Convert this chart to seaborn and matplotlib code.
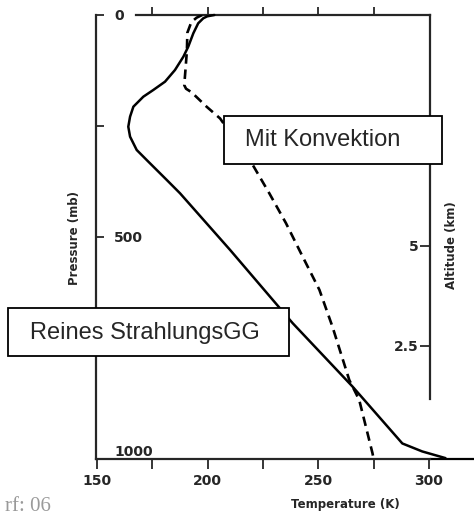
import matplotlib
matplotlib.use('Agg')
import matplotlib.pyplot as plt
import seaborn as sns
import pandas as pd
from matplotlib.patches import Rectangle

# pure radiative equilibrium profile (solid)
rad_temp = [203, 199.8, 198.0, 195.7, 193.5, 191.2, 189.0, 185.2, 180.7, 175.4, 170.9,
            166.4, 164.9, 164.1, 164.9, 167.9, 173.1, 181.5, 187.5, 210.1, 238.4,
            265.5, 288.0, 297.0, 307.5]
rad_pres = [0, 3, 7.4, 18.7, 41.2, 71.4, 93.9, 123.9, 150.2, 168.9, 184,
            206.5, 229, 251.6, 274, 304, 330, 371.6, 401.6, 529, 694,
            837, 965, 983, 998]

# radiative-convective profile (dashed)
conv_temp = [197.5, 195.0, 192.6, 190.8, 190.6, 190.0, 189.4, 190.2, 192.7, 199.5, 205.6,
             220.4, 227.9, 235.4, 242.9, 250.5, 256.4, 264.0, 268.5, 274.5, 275.0]
conv_pres = [0, 6, 16, 40, 80, 120, 158, 166, 174, 206.5, 233,
             338, 402, 469, 544, 619, 702, 822, 867, 987, 1000]

temp_ticks = [150, 175, 200, 225, 250, 275, 300]
temp_labels = ['150', '', '200', '', '250', '', '300']
top_ticks = [175, 200, 225, 250, 275]
pres_ticks = [0, 250, 500, 750, 1000]
pres_labels = ['0', '', '500', '750', '1000']
alt_ticks = [2.5, 5]
alt_labels = ['2.5', '5']

W, H = 474, 515

sns.set_style('ticks')
plt.rcParams['font.family'] = ['DejaVu Sans']

fig = plt.figure(figsize=(W / 100, H / 100), dpi=100)
ax = fig.add_axes([96 / W, 1 - 459 / H, 334 / W, 444 / H])

rad = pd.DataFrame({'T': rad_temp, 'p': rad_pres})
conv = pd.DataFrame({'T': conv_temp, 'p': conv_pres})

sns.lineplot(data=rad, x='T', y='p', sort=False, estimator=None, ax=ax,
             color='black', lw=1.8)
ax.lines[-1].set_clip_on(False)
ax.lines[-1].set_solid_joinstyle('round')
sns.lineplot(data=conv, x='T', y='p', sort=False, estimator=None, ax=ax,
             color='black', lw=1.9)
ax.lines[-1].set_dashes((3.6, 2.2))

ax.set_xlim(149.5, 300.5)
ax.set_ylim(1000, 0)

for s in ['top', 'right']:
    ax.spines[s].set_visible(False)
for s in ['left', 'bottom']:
    ax.spines[s].set_linewidth(1.6)

# bottom axis runs on past the frame
ax.axhline(1000, xmin=1, xmax=(W - 96) / 334, clip_on=False, color='black', lw=1.6)

ax.set_xticks(temp_ticks)
ax.set_xticklabels(temp_labels)
ax.tick_params(axis='x', direction='out', length=7, width=1.3, pad=4)

ax.set_yticks(pres_ticks)
ax.set_yticklabels(pres_labels)
ax.tick_params(axis='y', direction='in', length=6, width=1.3, pad=-13)
ylabs = ax.get_yticklabels()
for lab in ylabs:
    lab.set_ha('left')
ylabs[-1].set_va('bottom')

for lab in ax.get_xticklabels() + ax.get_yticklabels():
    lab.set_fontsize(10)
    lab.set_fontweight('bold')

# top frame with its own ticks
sec = ax.secondary_xaxis('top')
sec.set_xticks(top_ticks)
sec.tick_params(direction='out', length=6, width=1.3, labeltop=False)
sec.spines['top'].set_linewidth(1.6)
sec.spines['top'].set_bounds(167.5, 300.5)

# altitude scale on the right
ax2 = ax.twinx()
ax2.set_ylim(-0.325, 10.775)
for s in ['top', 'left', 'bottom']:
    ax2.spines[s].set_visible(False)
ax2.spines['right'].set_linewidth(1.6)
ax2.spines['right'].set_bounds(1.175, 10.775)
ax2.set_yticks(alt_ticks)
ax2.set_yticklabels(alt_labels)
ax2.tick_params(axis='y', direction='in', length=7, width=1.3, pad=-8)
for lab in ax2.get_yticklabels():
    lab.set_ha('right')
    lab.set_fontsize(10)
    lab.set_fontweight('bold')

ax.set_xlabel('Temperature (K)', fontsize=8.5, fontweight='bold')
ax.xaxis.set_label_coords((345 - 96) / 334, (459 - 498) / 444)
ax.set_ylabel('Pressure (mb)', fontsize=8.5, fontweight='bold')
ax.yaxis.set_label_coords((81 - 96) / 334, (459 - 238) / 444)
ax2.set_ylabel('Altitude (km)', fontsize=8.5, fontweight='bold')
ax2.yaxis.set_label_coords((445 - 96) / 334, (459 - 245) / 444)

# annotation boxes
boxes = [((224, 116, 218, 48), (245, 140), 'Mit Konvektion'),
         ((8, 308, 281, 48), (30, 333), 'Reines StrahlungsGG')]
for (x0, y0, bw, bh), (tx, ty), txt in boxes:
    fig.add_artist(Rectangle((x0 / W, 1 - (y0 + bh) / H), bw / W, bh / H,
                             transform=fig.transFigure, facecolor='white',
                             edgecolor='black', lw=1.3, zorder=5))
    fig.text(tx / W, 1 - ty / H, txt, fontsize=17, family='Liberation Sans',
             va='center', ha='left', zorder=6)

fig.text(5 / W, 1 - 511 / H, 'rf: 06', color='#9a9a9a', family='Liberation Serif',
         fontsize=15, va='baseline', ha='left')

fig.savefig('out.png', dpi=100)
